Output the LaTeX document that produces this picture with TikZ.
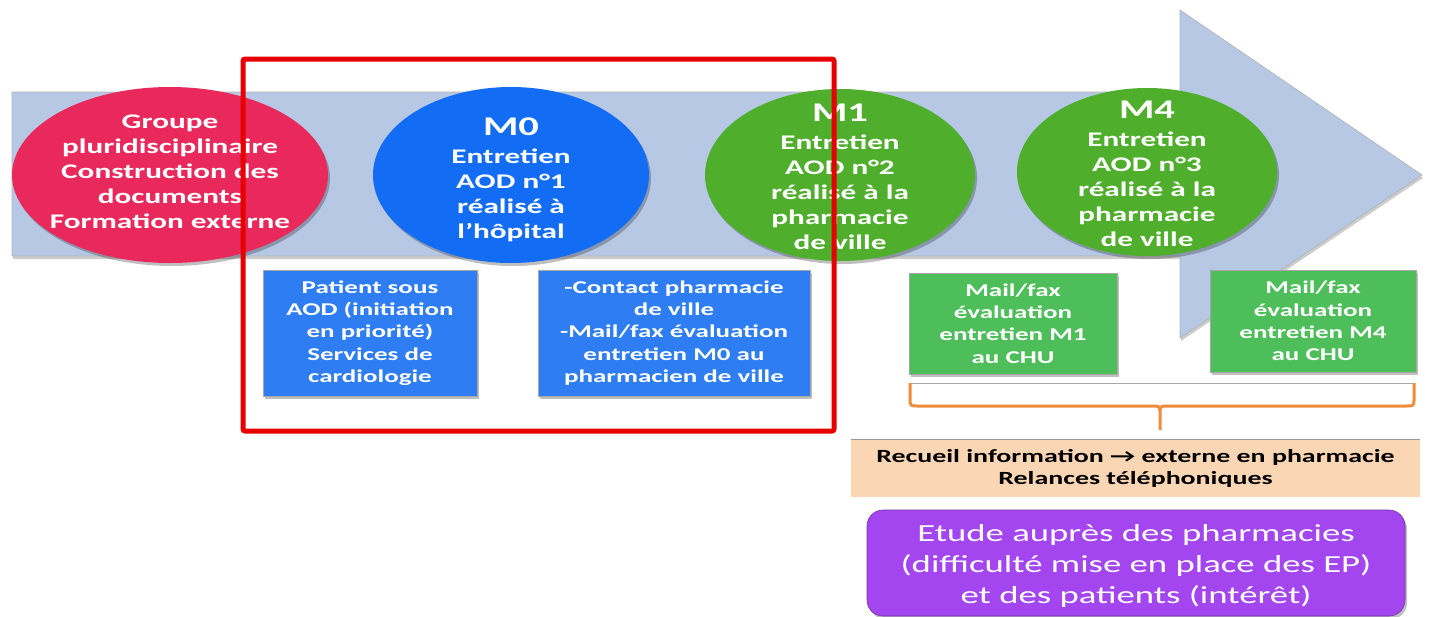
\documentclass[tikz,border=0pt]{standalone}
\usepackage{fontspec}
\setmainfont{Carlito}[FakeStretch=1.5]
\usetikzlibrary{shapes.geometric,shadows}
\definecolor{band}{HTML}{B7C8E5}
\definecolor{redell}{HTML}{E9285B}
\definecolor{blueell}{HTML}{136DF4}
\definecolor{greenell}{HTML}{4FAE2C}
\definecolor{bluebox}{HTML}{2F7DF3}
\definecolor{greenbox}{HTML}{4EBE5B}
\definecolor{peach}{HTML}{FBD6B4}
\definecolor{purplebox}{HTML}{A446F0}
\definecolor{frame}{HTML}{E60000}
\definecolor{braceor}{HTML}{EE8C3A}
\begin{document}
\begin{tikzpicture}[x=1pt,y=-1pt,
  shd/.style={drop shadow={shadow xshift=2pt,shadow yshift=-3pt,opacity=0.25,fill=black}},
  ell/.style={ellipse, inner sep=0, draw=none, shd},
  etxt/.style={text=white, font=\bfseries\fontsize{20.8}{25}\selectfont, align=center, inner sep=0},
  box/.style={rectangle, inner sep=0, draw=black!35, line width=0.6, shd},
  btxt/.style={text=white, font=\bfseries\fontsize{18}{22.3}\selectfont, align=center, inner sep=0},
]
\useasboundingbox (0,0) rectangle (1429,616);
% big arrow
\path[fill=band, draw=black!30, line width=0.6,
  drop shadow={shadow xshift=1pt,shadow yshift=-3pt,opacity=0.2,fill=black}]
  (12,92) -- (1180,92) -- (1180,10) -- (1422,175) -- (1180,338) -- (1180,256) -- (12,256) -- cycle;
% ellipses
\node[ell, fill=redell, minimum width=316, minimum height=176] (e0) at (170,175) {};
\node[ell, fill=blueell, minimum width=276, minimum height=176] (e1) at (511,175) {};
\node[ell, fill=greenell, minimum width=270, minimum height=172] (e2) at (840,175) {};
\node[ell, fill=greenell, minimum width=260, minimum height=168] (e3) at (1147,172) {};
\node[etxt] (t0) at (170,172) {Groupe\\pluridisciplinaire\\Construction des\\documents\\Formation externe};
\node[etxt] (t1) at (511,180) {{\fontsize{27}{27}\selectfont M0}\\[3pt]Entretien\\AOD n°1\\réalisé à\\l’hôpital};
\node[etxt] (t2) at (840,177) {{\fontsize{27}{27}\selectfont M1}\\[3pt]Entretien\\AOD n°2\\réalisé à la\\pharmacie\\de ville};
\node[etxt] (t3) at (1147,174) {{\fontsize{27}{27}\selectfont M4}\\[3pt]Entretien\\AOD n°3\\réalisé à la\\pharmacie\\de ville};
% boxes
\node[box, fill=bluebox, minimum width=214, minimum height=126] (b1) at (370,333) {};
\node[btxt] (bt1) at (b1.center) {Patient sous\\AOD (initiation\\en priorité)\\Services de\\cardiologie};
\node[box, fill=bluebox, minimum width=272, minimum height=126] (b2) at (674,333) {};
\node[btxt] (bt2) at (b2.center) {-Contact pharmacie\\de ville\\-Mail/fax évaluation\\entretien M0 au\\pharmacien de ville};
\node[box, fill=greenbox, minimum width=208, minimum height=101] (g1) at (1013,323.5) {};
\node[btxt] (gt1) at (g1.center) {Mail/fax\\évaluation\\entretien M1\\au CHU};
\node[box, fill=greenbox, minimum width=206, minimum height=102] (g2) at (1313,321) {};
\node[btxt] (gt2) at (g2.center) {Mail/fax\\évaluation\\entretien M4\\au CHU};
% brace
\coordinate (brL) at (910,383);
\coordinate (brR) at (1414,383);
\coordinate (brT) at (1160,430);
\draw[black!35, line width=0.8] (brL) -- (brR);
\draw[braceor, line width=3, line join=round,
  drop shadow={shadow xshift=1pt,shadow yshift=-2pt,opacity=0.25,fill=none}]
  (brL) -- (910,398) .. controls (910,406) .. (918,406) -- (1152,406)
  .. controls (1160,406) .. (1160,414) -- (brT)
  (1160,414) .. controls (1160,406) .. (1168,406) -- (1406,406)
  .. controls (1414,406) .. (1414,398) -- (brR);
% peach box
\node[rectangle, fill=peach, inner sep=0, minimum width=569, minimum height=57] (pb) at (1135.5,468.5) {};
\draw[black!40, line width=0.8] (pb.north west) -- (pb.north east);
\node[text=black, font=\bfseries\fontsize{18.6}{22}\selectfont, align=center, inner sep=0] (pt) at (pb.center) {Recueil information → externe en pharmacie\\Relances téléphoniques};
% purple box
\node[rectangle, rounded corners=16pt, fill=purplebox, draw=purplebox!70!black, line width=0.6, inner sep=0, minimum width=538, minimum height=106, shd] (pu) at (1136,563) {};
\node[text=white, font=\fontsize{24.5}{31}\selectfont, align=center, inner sep=0] (put) at (1136,566) {Etude auprès des pharmacies\\(difficulté mise en place des EP)\\et des patients (intérêt)};
% red frame
\draw[frame, line width=5, rounded corners=2pt] (243,59) rectangle (834,431);
\end{tikzpicture}
\end{document}
